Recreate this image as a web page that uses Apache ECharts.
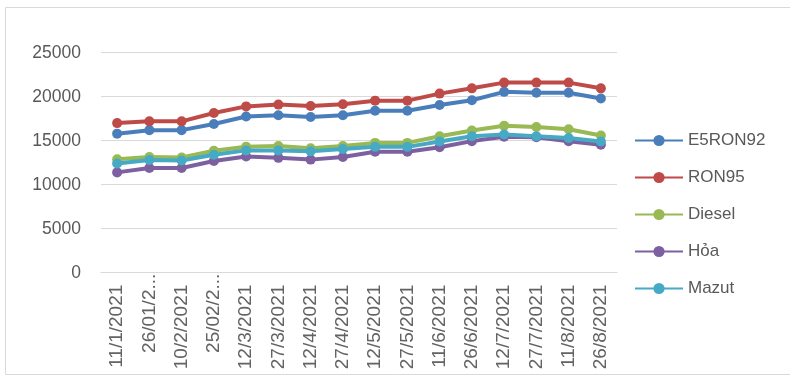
<!DOCTYPE html>
<html>
<head>
<meta charset="utf-8">
<script src="https://cdn.jsdelivr.net/npm/echarts@6/dist/echarts.min.js"></script>
<style>html,body{margin:0;padding:0;background:#fff;}#c{width:790px;height:380px;}</style>
</head>
<body>
<div id="c"></div>
<script>
var categories = ['11/1/2021','26/01/2...','10/2/2021','25/02/2...','12/3/2021','27/3/2021','12/4/2021','27/4/2021','12/5/2021','27/5/2021','11/6/2021','26/6/2021','12/7/2021','27/7/2021','11/8/2021','26/8/2021'];
var truncated = ['26/01/2...','25/02/2...'];
var seriesNames = ['E5RON92','RON95','Diesel','Hỏa','Mazut'];
var e5ron92 = [15800,16200,16200,16900,17750,17900,17700,17900,18400,18400,19050,19600,20550,20450,20450,19800];
var ron95   = [17000,17200,17200,18150,18900,19100,18950,19150,19550,19550,20350,20950,21600,21600,21600,20950];
var diesel  = [12900,13150,13100,13850,14300,14400,14150,14400,14750,14750,15500,16150,16700,16550,16300,15600];
var hoa     = [11400,11900,11900,12700,13200,13050,12850,13150,13750,13750,14250,14950,15450,15400,14950,14550];
var mazut   = [12400,12800,12750,13400,13900,13900,13800,14050,14300,14300,14900,15500,15700,15500,15300,14900];
var yTicks = {min:0, max:25000, interval:5000};
var colors = ['#4A7EBB','#BE4B48','#98B954','#7D60A0','#46AAC5'];

var chart = echarts.init(document.getElementById('c'));
var values = [e5ron92, ron95, diesel, hoa, mazut];
var font = 'Liberation Sans, Arial, sans-serif';
chart.setOption({
  animation:false,
  color: colors,
  graphic:[{type:'rect', shape:{x:5.5,y:7.5,width:800,height:367}, style:{fill:'none',stroke:'#D9D9D9',lineWidth:1}, silent:true}],
  grid:{left:101, right:173, top:52.7, bottom:107.3},
  legend:{
    orient:'vertical', left:629, top:127, itemWidth:48, itemHeight:14, itemGap:20,
    textStyle:{color:'#595959', fontSize:17, fontFamily:font},
    data: seriesNames
  },
  xAxis:{
    type:'category', boundaryGap:true,
    data: categories.map(function(c){ return truncated.indexOf(c)>=0 ? {value:c, textStyle:{padding:[0,0,0,0]}} : c; }),
    axisLine:{lineStyle:{color:'#D9D9D9', width:1}},
    axisTick:{show:false},
    axisLabel:{rotate:90, interval:0, margin:1, padding:[0,11,0,0], color:'#636363', fontSize:19, fontFamily:font}
  },
  yAxis:{
    type:'value', min:yTicks.min, max:yTicks.max, interval:yTicks.interval,
    axisLine:{show:false}, axisTick:{show:false},
    splitLine:{lineStyle:{color:'#D9D9D9', width:1}},
    axisLabel:{margin:20, color:'#595959', fontSize:17.5, fontFamily:font, formatter:function(v){return String(v);}}
  },
  series: seriesNames.map(function(n,i){
    return {name:n, type:'line', data:values[i], symbol:'circle', symbolSize:10,
      lineStyle:{width:4}, itemStyle:{color:colors[i]}};
  })
});
</script>
</body>
</html>
